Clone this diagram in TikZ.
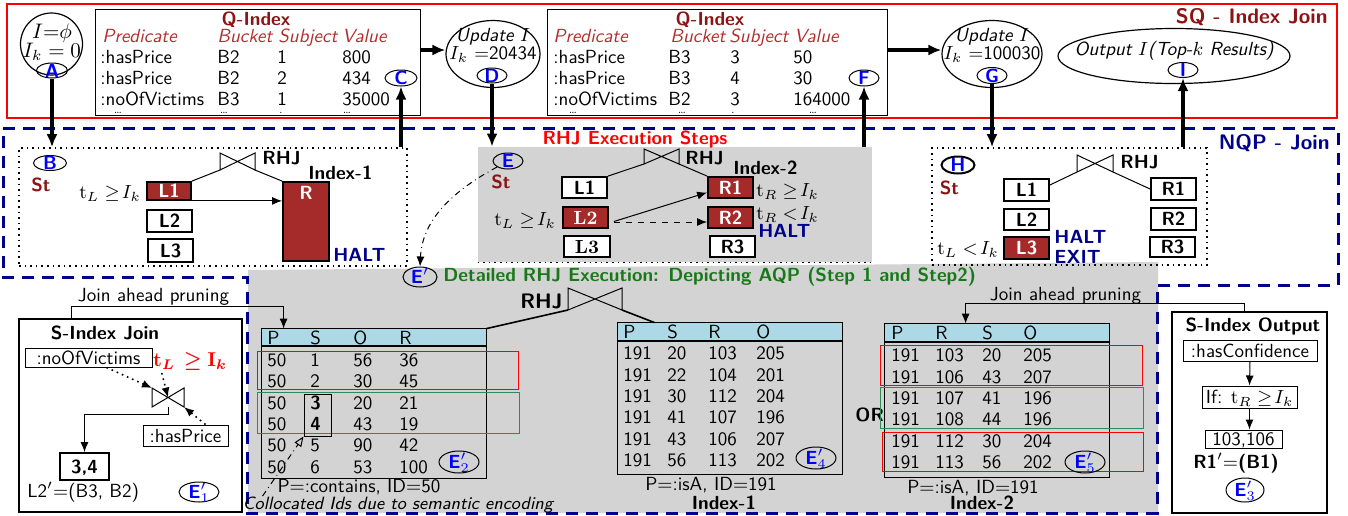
\RequirePackage{fix-cm}
\documentclass[tikz,border=0pt]{standalone}
\usepackage{amsmath,amssymb}
\usetikzlibrary{arrows.meta,calc,shapes.geometric}
\definecolor{brn}{RGB}{165,42,42}
\definecolor{dred}{RGB}{140,20,20}
\definecolor{hred}{RGB}{180,45,45}
\definecolor{nvy}{RGB}{0,0,139}
\definecolor{dgrn}{RGB}{25,120,25}
\definecolor{sgrn}{RGB}{46,139,87}
\definecolor{lblu}{RGB}{173,216,230}
\definecolor{lgry}{RGB}{211,211,211}
\definecolor{lbl}{RGB}{0,0,255}
\newcommand\labtxt[1]{\makebox[0pt]{\smash{\raisebox{-3.3pt}{#1}}}}
\tikzset{
  sz/.style 2 args={minimum width=#1*0.5pt, minimum height=#2*0.5pt},
  bfs/.style={font=\sffamily\bfseries\fontsize{9.5}{11}\selectfont},
  its/.style={font=\sffamily\itshape\fontsize{9.5}{11}\selectfont},
  tx/.style={inner sep=0pt, text height=6.6pt, text depth=0pt},
  lab/.style 2 args={ellipse, draw, line width=0.5pt, inner sep=0pt, sz={#1}{#2}, text=lbl, font=\sffamily\bfseries\fontsize{9.5}{11}\selectfont},
  bx/.style 2 args={draw, line width=0.9pt, inner sep=0pt, sz={#1}{#2}, text height=6.6pt, text depth=0pt, font=\sffamily\bfseries\fontsize{9.5}{11}\selectfont},
  fbx/.style 2 args={bx={#1}{#2}, fill=brn, text=white},
  tb/.style 2 args={draw, line width=0.5pt, inner sep=0pt, sz={#1}{#2}, text height=6.6pt, text depth=0pt},
  thk/.style={line width=1.6pt, -{Latex[length=6.5pt,width=5.5pt]}},
  thn/.style={line width=0.5pt, -{Latex[length=5pt,width=4pt]}},
  bowtie/.pic={
    \draw[line width=0.5pt] (-1,-1) -- (-1,1) -- (1,-1) -- (1,1) -- cycle;
    \coordinate (-tl) at (-1,-1); \coordinate (-bl) at (-1,1);
    \coordinate (-tr) at (1,-1); \coordinate (-br) at (1,1);
    \coordinate (-c) at (0,0); \coordinate (-b) at (0,1);
  }
}
\begin{document}
\begin{tikzpicture}[x=0.5pt,y=-0.5pt,font=\sffamily\fontsize{9.5}{11}\selectfont]
\useasboundingbox (0,0) rectangle (1348,515);

% ---------- backgrounds
\fill[lgry] (248,270) -- (1158,262) -- (1158,513) -- (248,513) -- cycle;
\node[fill=lgry, inner sep=0pt, sz={394}{115}] (mid) at (675,204.5) {};
\draw[dotted, line width=0.8pt] (mid.south west) -- (mid.south east);

\draw[red, line width=1.3pt] (7,4) rectangle (1337,118);
\draw[nvy, line width=1.5pt, dash pattern=on 6pt off 4pt] (3,128) -- (1338,128) -- (1338,285) -- (1157,285) -- (1157,513) -- (247,513) -- (247,277) -- (3,277) -- cycle;

\node[tx, anchor=east, text=dred, font=\sffamily\bfseries\fontsize{10.5}{12}\selectfont] (sqt) at (1328,17) {SQ - Index Join};
\node[tx, anchor=east, text=nvy, font=\sffamily\bfseries\fontsize{10.5}{12}\selectfont] (nqt) at (1330,143) {NQP - Join};

% ---------- top row
\node[circle, draw, line width=0.6pt, sz={62}{62}, inner sep=0pt] (cA) at (51.5,44) {};
\node[tx, font=\fontsize{10.5}{12}\selectfont] (cAt1) at (52,32) {$I{=}\phi$};
\node[tx, font=\fontsize{10.5}{12}\selectfont] (cAt2) at (52,51) {$I_k = 0$};
\node[lab={31}{15}] (lA) at (52,70.5) {\labtxt{A}};

\node[tb={325}{106}] (q1) at (257.5,62) {};
\node[tx, bfs, text=dred] (q1t) at (256,19) {Q-Index};
\foreach \x/\t [count=\i] in {102/Predicate,217/Bucket,278/Subject,342/Value}
  \node[tx, its, anchor=west, text=hred] (q1h\i) at (\x,36) {\t};
\foreach \p/\b/\s/\v [count=\i] in {:hasPrice/B2/1/800,:hasPrice/B2/2/434,:noOfVictims/B3/1/35000}{
  \node[tx, anchor=west] (q1p\i) at (100,36+21*\i) {\p};
  \node[tx, anchor=west] (q1b\i) at (217,36+21*\i) {\b};
  \node[tx, anchor=west] (q1s\i) at (277,36+21*\i) {\s};
  \node[tx, anchor=west] (q1v\i) at (342,36+21*\i) {\v};
}
\foreach \x/\t [count=\i] in {118/\ldots,224/\ldots,281/.,347/\ldots}
  \node[inner sep=0pt, font=\tiny] (q1d\i) at (\x,113) {\t};
\node[lab={32}{16}] (lC) at (401,78) {\labtxt{C}};

\node[ellipse, draw, line width=0.6pt, sz={94}{67}, inner sep=0pt] (eD) at (493,54) {};
\node[tx, its] (eDt1) at (493,35) {Update $I$};
\node[tx] (eDt2) at (493,53) {$I_k$ =20434};
\node[lab={30}{15}] (lD) at (492,75.5) {\labtxt{D}};

\node[tb={340}{106}] (q2) at (717,62) {};
\node[tx, bfs, text=dred] (q2t) at (710,19) {Q-Index};
\foreach \x/\t [count=\i] in {553/Predicate,670/Bucket,729/Subject,794/Value}
  \node[tx, its, anchor=west, text=hred] (q2h\i) at (\x,36) {\t};
\foreach \p/\b/\s/\v [count=\i] in {:hasPrice/B3/3/50,:hasPrice/B3/4/30,:noOfVictims/B2/3/164000}{
  \node[tx, anchor=west] (q2p\i) at (553,36+21*\i) {\p};
  \node[tx, anchor=west] (q2b\i) at (668,36+21*\i) {\b};
  \node[tx, anchor=west] (q2s\i) at (730,36+21*\i) {\s};
  \node[tx, anchor=west] (q2v\i) at (793,36+21*\i) {\v};
}
\foreach \x/\t [count=\i] in {573/\ldots,682/\ldots,733/.,813/\ldots}
  \node[inner sep=0pt, font=\tiny] (q2d\i) at (\x,113) {\t};
\node[lab={30}{16}] (lF) at (864,78) {\labtxt{F}};

\node[ellipse, draw, line width=0.6pt, sz={100}{67}, inner sep=0pt] (eG) at (992,54) {};
\node[tx, its] (eGt1) at (992,35) {Update $I$};
\node[tx] (eGt2) at (992,53) {$I_k$ =100030};
\node[lab={30}{16}] (lG) at (992,75.5) {\labtxt{G}};

\node[ellipse, draw, line width=0.6pt, sz={232}{55}, inner sep=0pt] (eI) at (1174,56) {};
\node[tx, its] (eIt) at (1174,49) {Output $I$(Top-$k$ Results)};
\node[lab={30}{15}] (lI) at (1183,70) {\labtxt{I}};

\coordinate (a1) at ($(q1.east)+(0,-12)$);
\draw[thk] (a1) -- (a1 -| eD.west);
\coordinate (a2) at ($(q2.east)+(0,-12)$);
\draw[thk] (a2) -- (a2 -| eG.west);

% ---------- NQP boxes
\node[draw, dotted, line width=0.8pt, inner sep=0pt, sz={388}{118}] (bB) at (213,207) {};
\node[draw, dotted, line width=0.8pt, inner sep=0pt, sz={275}{117}] (bH) at (1069.5,206.5) {};

\draw[thk] (lA.south) -- (lA.south |- bB.north);
\draw[thk] (lC.south |- bB.north) -- (lC.south);
\draw[thk] (lD.south) -- (lD.south |- mid.north);
\draw[thk] (lF.south |- mid.north) -- (lF.south);
\draw[thk] (lG.south) -- (lG.south |- bH.north);
\draw[thk] (lI.south |- bH.north) -- (lI.south);

% B box
\node[lab={33}{15}] (lB) at (50,163) {\labtxt{B}};
\node[tx, bfs, text=dred] (stB) at (41,185) {St};
\node[fbx={44}{18}] (bL1) at (169,191) {L1};
\node[bx={45}{22}] (bL2) at (169.5,221) {L2};
\node[bx={45}{23}] (bL3) at (170.5,250.5) {L3};
\node[fbx={46}{79}] (bR) at (306,221.5) {};
\node[tx, bfs, text=white] (bRt) at (306,193) {R};
\pic[xscale=17.5,yscale=8.5] (bt1) at (237.5,161.5) {bowtie};
\node[tx, bfs, anchor=west] (rhj1) at (262,158) {RHJ};
\node[tx, bfs, anchor=west] (ix1) at (308,173) {Index-1};
\node[tx, bfs, anchor=west, text=nvy] (halt1) at (333,255) {HALT};
\node[tx, anchor=east] (tl1) at (141,192) {$\mathrm{t}_L \geq\! I_k$};
\draw[line width=0.5pt] (bL1.north east) -- (bt1-bl);
\draw[line width=0.5pt] (bt1-br) -- (bR.north west);
\draw[thn] (bL1.south east) -- (bL1.south east -| bR.west);

% middle box
\node[tx, bfs, text=red] (rhjes) at (635,138) {RHJ Execution Steps};
\node[lab={30}{16}] (lE) at (508,161) {\labtxt{E}};
\node[tx, bfs, text=dred] (stE) at (501,182) {St};
\pic[xscale=17.5,yscale=7.5] (bt2) at (661.5,156.5) {bowtie};
\node[tx, bfs, anchor=west] (rhj2) at (685,158) {RHJ};
\node[tx, bfs, anchor=west] (ix2) at (733,168) {Index-2};
\node[bx={45}{21}, fill=white] (mL1) at (584.5,187.5) {L1};
\node[fbx={45}{21}, font=\rmfamily\bfseries\fontsize{9.5}{11}\selectfont] (mL2) at (585.5,217.5) {L2};
\node[bx={46}{21}, fill=white, font=\rmfamily\bfseries\fontsize{9.5}{11}\selectfont] (mL3) at (587,246.5) {L3};
\node[fbx={45}{21}] (mR1) at (730.5,187.5) {R1};
\node[fbx={45}{21}] (mR2) at (730.5,217.5) {R2};
\node[bx={45}{21}, fill=white] (mR3) at (732.5,246.5) {R3};
\node[tx, anchor=west] (trg) at (756,190) {$\mathrm{t}_R \geq\! I_k$};
\node[tx, anchor=west] (trl) at (756,213) {$\mathrm{t}_R <\! I_k$};
\node[tx, bfs, anchor=west, text=nvy] (halt2) at (758,231) {HALT};
\node[tx, anchor=east] (tlm) at (556,219) {$\mathrm{t}_L \geq\! I_k$};
\draw[line width=0.5pt] (mL1.north east) -- (bt2-bl);
\draw[line width=0.5pt] (bt2-br) -- (mR1.north west);
\draw[thn] ($(mL2.east)+(5,4)$) -- ($(mR1.west)+(0,5)$);
\draw[thn, dashed] ($(mL2.east)+(5,4.5)$) -- ($(mR2.west)+(0,4.5)$);

\node[lab={34}{20}] (lEp) at (420,277) {\labtxt{E$'$}};
\draw[dash dot, line width=0.5pt, -{Latex[length=5pt,width=4pt]}] (lE.south west) .. controls (445,195) and (422,225) .. (lEp.north);
\node[tx, bfs, text=dgrn, anchor=west] (det) at (443,275) {Detailed RHJ Execution: Depicting AQP (Step 1 and Step2)};

% H box
\node[lab={33}{17}, line width=1pt] (lH) at (958,165) {\labtxt{H}};
\node[tx, bfs, text=dred] (stH) at (949.5,188) {St};
\pic[xscale=18,yscale=8.5] (bt3) at (1095,163.5) {bowtie};
\node[tx, bfs, anchor=west] (rhj3) at (1120,162) {RHJ};
\node[bx={45}{22}] (hL1) at (1026.5,190) {L1};
\node[bx={45}{21}] (hL2) at (1026.5,219.5) {L2};
\node[fbx={45}{22}] (hL3) at (1026.5,248) {L3};
\node[bx={45}{22}] (hR1) at (1173.5,189) {R1};
\node[bx={45}{22}] (hR2) at (1173.5,219) {R2};
\node[bx={45}{20}] (hR3) at (1172.5,247) {R3};
\node[tx, bfs, anchor=west, text=nvy] (halt3) at (1054,237) {HALT};
\node[tx, bfs, anchor=west, text=nvy] (exit3) at (1054,257) {EXIT};
\node[tx, anchor=east] (tlh) at (999,248) {$\mathrm{t}_L <\! I_k$};
\draw[line width=0.5pt] ($(hL1.east)+(0,-5)$) -- (bt3-bl);
\draw[line width=0.5pt] (bt3-br) -- (hR1.west);

% ---------- S-Index Join
\node[tb={223}{193}, line width=0.6pt] (sij) at (130.5,415.5) {};
\node[tx] (jap1) at (153.5,295) {Join ahead pruning};
\node[tx, bfs] (sijt) at (105,333) {S-Index Join};
\node[tb={127}{19}] (nov) at (88.5,357.5) {:noOfVictims};
\node[tx, text=red, font=\fontsize{10}{12}\selectfont] (tlr) at (190,360) {$\mathbf{t}_{\boldsymbol{L}}\,\boldsymbol{\geq}\mathbf{I}_{\boldsymbol{k}}$};
\pic[xscale=16,yscale=9.5] (bt4) at (168,397.5) {bowtie};
\node[tb={85}{21}] (hp) at (185.5,435.5) {:hasPrice};
\node[bx={49}{27}] (b34) at (84.5,466.5) {3,4};
\node[tx, anchor=west] (l2p) at (27,491) {L2$'{=}$(B3, B2)};
\node[lab={40}{20}] (lE1) at (199,492) {\labtxt{E$'_1$}};
\draw[dotted, line width=0.8pt, -{Latex[length=5pt,width=4pt]}] ($(nov.south)+(18,0)$) -- (bt4-tl);
\draw[dotted, line width=0.8pt, -{Latex[length=5pt,width=4pt]}] ($(tlr.south west)+(9,6)$) -- (bt4-c);
\draw[dotted, line width=0.8pt, -{Latex[length=5pt,width=4pt]}] ($(hp.north)+(20,0)$) -- (bt4-br);
\draw[thn] (bt4-b) -- ++(0,7) -| (b34.north);

% ---------- E'2 table
\node[inner sep=0pt, sz={224}{149}] (t2) at (374,403.5) {};
\fill[lblu] (t2.north west) rectangle ($(t2.north east)+(0,17)$);
\draw[line width=1pt] ($(t2.north west)+(0,17)$) -- ($(t2.north east)+(0,17)$);
\draw[line width=0.6pt] (t2.north west) rectangle (t2.south east);
\foreach \x/\t [count=\i] in {267/P,310/S,353/O,399/R}
  \node[tx, anchor=west] (t2h\i) at (\x,338) {\t};
\foreach \a/\b/\c/\d [count=\i] in {50/1/56/36,50/2/30/45,50/{\bfseries 3}/20/21,50/{\bfseries 4}/43/19,50/5/90/42,50/6/53/100}{
  \node[tx, anchor=west] (t2a\i) at (267,338.7+21.3*\i) {\a};
  \node[tx, anchor=west] (t2b\i) at (310,338.7+21.3*\i) {\b};
  \node[tx, anchor=west] (t2c\i) at (353,338.7+21.3*\i) {\c};
  \node[tx, anchor=west] (t2d\i) at (399,338.7+21.3*\i) {\d};
}
\draw[red, line width=0.5pt] (257,351) rectangle (518,389);
\draw[sgrn, line width=0.5pt] (257,392) rectangle (519,433);
\node[tb={27}{42}] (col34) at (317.5,415) {};
\node[lab={40}{22}] (lE2) at (459,462) {\labtxt{E$'_2$}};
\node[tx] (t2cap) at (359,486) {P$=$:contains, ID$=$50};
\node[tx, font=\sffamily\itshape\fontsize{8.9}{10}\selectfont] (coll) at (398,503) {Collocated Ids due to semantic encoding};
\draw[dash dot, line width=0.5pt, -{Triangle[open,length=5pt,width=4pt]}] ($(coll.north west)+(20,0)$) -- (col34.south west);

\node[tx, anchor=east, font=\sffamily\bfseries\fontsize{10.5}{12}\selectfont] (rhj5) at (563,302) {RHJ};
\pic[xscale=27,yscale=11] (bt5) at (595,299) {bowtie};

% ---------- E'4 table
\node[inner sep=0pt, sz={224}{151}] (t4) at (730,398.5) {};
\fill[lblu] (t4.north west) rectangle ($(t4.north east)+(0,18)$);
\draw[line width=1pt] ($(t4.north west)+(0,18)$) -- ($(t4.north east)+(0,18)$);
\draw[line width=0.6pt] (t4.north west) rectangle (t4.south east);
\foreach \x/\t [count=\i] in {623/P,667/S,708/R,756/O}
  \node[tx, anchor=west] (t4h\i) at (\x,332) {\t};
\foreach \a/\b/\c/\d [count=\i] in {191/20/103/205,191/22/104/201,191/30/112/204,191/41/107/196,191/43/106/207,191/56/113/202}{
  \node[tx, anchor=west] (t4a\i) at (623,331.6+21.4*\i) {\a};
  \node[tx, anchor=west] (t4b\i) at (667,331.6+21.4*\i) {\b};
  \node[tx, anchor=west] (t4c\i) at (708,331.6+21.4*\i) {\c};
  \node[tx, anchor=west] (t4d\i) at (756,331.6+21.4*\i) {\d};
}
\node[lab={40}{22}] (lE4) at (816,458) {\labtxt{E$'_4$}};
\node[tx] (t4cap) at (711,484) {P$=$:isA, ID$=$191};
\node[tx, bfs] (ix4) at (724,503) {Index-1};
\node[tx, bfs, anchor=west] (orr) at (855,415) {OR};

\draw[line width=0.8pt] (bt5-bl) -- (t2.north east);
\draw[line width=0.8pt] (bt5-br) -- ($(t4.north west)+(37,0)$);

% ---------- E'5 table
\node[inner sep=0pt, sz={224}{153}] (t5) at (997,400.5) {};
\fill[lblu] (t5.north west) rectangle ($(t5.north east)+(0,18)$);
\draw[line width=1pt] ($(t5.north west)+(0,18)$) -- ($(t5.north east)+(0,18)$);
\draw[line width=0.6pt] (t5.north west) rectangle (t5.south east);
\foreach \x/\t [count=\i] in {891/P,935/R,982/S,1023/O}
  \node[tx, anchor=west] (t5h\i) at (\x,333) {\t};
\foreach \a/\b/\c/\d [count=\i] in {191/103/20/205,191/106/43/207,191/107/41/196,191/108/44/196,191/112/30/204,191/113/56/202}{
  \node[tx, anchor=west] (t5a\i) at (891,333.6+21.4*\i) {\a};
  \node[tx, anchor=west] (t5b\i) at (935,333.6+21.4*\i) {\b};
  \node[tx, anchor=west] (t5c\i) at (982,333.6+21.4*\i) {\c};
  \node[tx, anchor=west] (t5d\i) at (1023,333.6+21.4*\i) {\d};
}
\draw[red, line width=0.5pt] (880,345) rectangle (1142,385);
\draw[sgrn, line width=0.5pt] (880,387) rectangle (1143,428);
\draw[red, line width=0.5pt] (882,432) rectangle (1143,471);
\node[lab={40}{22}] (lE5) at (1085,462) {\labtxt{E$'_5$}};
\node[tx] (t5cap) at (973,487) {P$=$:isA, ID$=$191};
\node[tx, bfs] (ix5) at (982,503) {Index-2};
\node[tx] (jap2) at (1065.5,294) {Join ahead pruning};

% ---------- S-Index Output
\node[tb={155}{201}, line width=0.6pt] (sio) at (1249.5,412.5) {};
\node[tx, bfs] (siot) at (1253,325) {S-Index Output};
\node[tb={134}{21}] (hc) at (1250,350.5) {:hasConfidence};
\node[tb={95}{22}] (ifb) at (1249.5,397) {If: $\mathrm{t}_R \geq\! I_k$};
\node[tb={77}{18}] (nb) at (1243.5,439) {103,106};
\node[tx, bfs] (r1p) at (1236,462) {R1$'{=}$(B1)};
\node[lab={38}{24}] (lE3) at (1245,490) {\labtxt{E$'_3$}};
\draw[thn] (hc.south) -- (ifb.north);
\draw[thn] (ifb.south) -- (ifb.south |- nb.north);

% ---------- join-ahead connectors
\draw[thn] ($(sij.north west)+(53,0)$) -- ++(0,-12) -| ($(t2.north west)+(22,0)$);
\draw[thn] ($(sio.north west)+(73,0)$) -- ++(0,-8) -| ($(t5.north west)+(81,0)$);
\end{tikzpicture}
\end{document}
